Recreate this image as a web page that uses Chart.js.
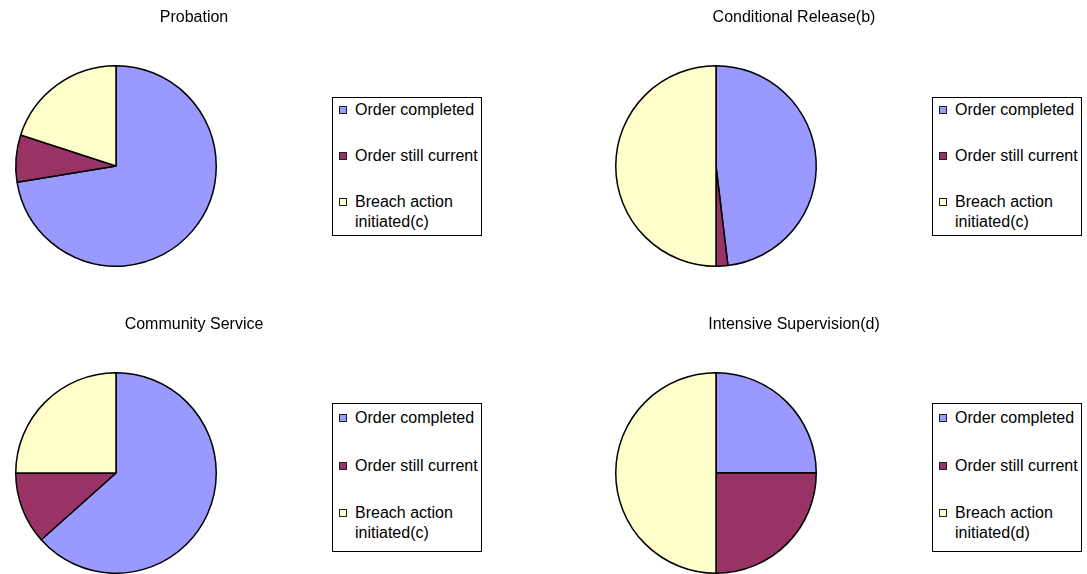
<!DOCTYPE html>
<html>
<head>
<meta charset="utf-8">
<script src="https://cdn.jsdelivr.net/npm/chart.js@4/dist/chart.umd.min.js"></script>
<style>
  body { margin: 0; background: #fff; }
  #page { position: relative; width: 1087px; height: 574px; overflow: hidden; font-family: "Liberation Sans", Arial, sans-serif; }
  canvas { position: absolute; }
  .legend { position: absolute; box-sizing: border-box; width: 150px; border: 1px solid #000; padding: 2px 0 0 6px;
            font-size: 16px; line-height: 20px; color: #000; background: #fff; }
  .legend .item { display: flex; align-items: flex-start; }
  .legend .swatch { flex: none; box-sizing: border-box; width: 8px; height: 8px; margin: 6px 8px 0 0; border: 1px solid #222; }
</style>
</head>
<body>
<div id="page"></div>
<script>
// outcome categories (legend text differs only in the footnote letter)
var labelsC = ['Order completed', 'Order still current', 'Breach action initiated(c)'];
var labelsD = ['Order completed', 'Order still current', 'Breach action initiated(d)'];
var sliceColours = ['#9999FF', '#993366', '#FFFFCC'];

// percentage of orders in each outcome
var probation = [72.4, 7.6, 20.0];
var conditionalRelease = [48.1, 1.9, 50.0];
var communityService = [63.4, 11.6, 25.0];
var intensiveSupervision = [25, 25, 50];

var panels = [
    { title: 'Probation', labels: labelsC, values: probation, x: 0, y: 0, legendTop: 97, legendH: 139, pad: 2, gap: 26 },
    { title: 'Conditional Release(b)', labels: labelsC, values: conditionalRelease, x: 600, y: 0, legendTop: 97, legendH: 139, pad: 2, gap: 26 },
    { title: 'Community Service', labels: labelsC, values: communityService, x: 0, y: 307, legendTop: 403, legendH: 149, pad: 4, gap: 27.5 },
    { title: 'Intensive Supervision(d)', labels: labelsD, values: intensiveSupervision, x: 600, y: 307, legendTop: 403, legendH: 149, pad: 4, gap: 27.5 }
];

// empty box on the right of the plot so the pie sits left of the centred title
function legendRoom(width) {
    return {
        id: 'legendRoom',
        beforeInit: function (chart) {
            Chart.layouts.addBox(chart, {
                position: 'right',
                weight: 0,
                fullSize: false,
                options: {},
                width: 0,
                height: 0,
                isHorizontal: function () { return false; },
                update: function (maxWidth, maxHeight) {
                    this.width = width;
                    this.height = maxHeight;
                },
                draw: function () {}
            });
        }
    };
}

function buildLegend(chart, p) {
    var box = document.createElement('div');
    box.className = 'legend';
    box.style.left = (p.x + 332) + 'px';
    box.style.top = p.legendTop + 'px';
    box.style.height = p.legendH + 'px';
    box.style.paddingTop = p.pad + 'px';
    var ds = chart.data.datasets[0];
    for (var i = 0; i < chart.data.labels.length; i++) {
        var row = document.createElement('div');
        row.className = 'item';
        if (i > 0) row.style.marginTop = p.gap + 'px';
        var sw = document.createElement('span');
        sw.className = 'swatch';
        sw.style.background = ds.backgroundColor[i];
        var txt = document.createElement('span');
        txt.textContent = chart.data.labels[i];
        row.appendChild(sw);
        row.appendChild(txt);
        box.appendChild(row);
    }
    document.getElementById('page').appendChild(box);
}

panels.forEach(function (p) {
    var canvas = document.createElement('canvas');
    canvas.width = 388;
    canvas.height = 270;
    canvas.style.left = p.x + 'px';
    canvas.style.top = p.y + 'px';
    document.getElementById('page').appendChild(canvas);

    var chart = new Chart(canvas.getContext('2d'), {
        type: 'pie',
        data: {
            labels: p.labels,
            datasets: [{
                data: p.values,
                backgroundColor: sliceColours,
                borderColor: '#000',
                borderWidth: 1.5
            }]
        },
        options: {
            responsive: false,
            animation: false,
            layout: { padding: { top: 0, bottom: 3, left: 0, right: 0 } },
            plugins: {
                legend: { display: false },
                tooltip: { enabled: false },
                title: {
                    display: true,
                    text: p.title,
                    color: '#000',
                    font: { family: "'Liberation Sans', Arial, sans-serif", size: 16, weight: 'normal' },
                    padding: { top: 8, bottom: 37.8 }
                }
            }
        },
        plugins: [legendRoom(156)]
    });
    buildLegend(chart, p);
});
</script>
</body>
</html>
